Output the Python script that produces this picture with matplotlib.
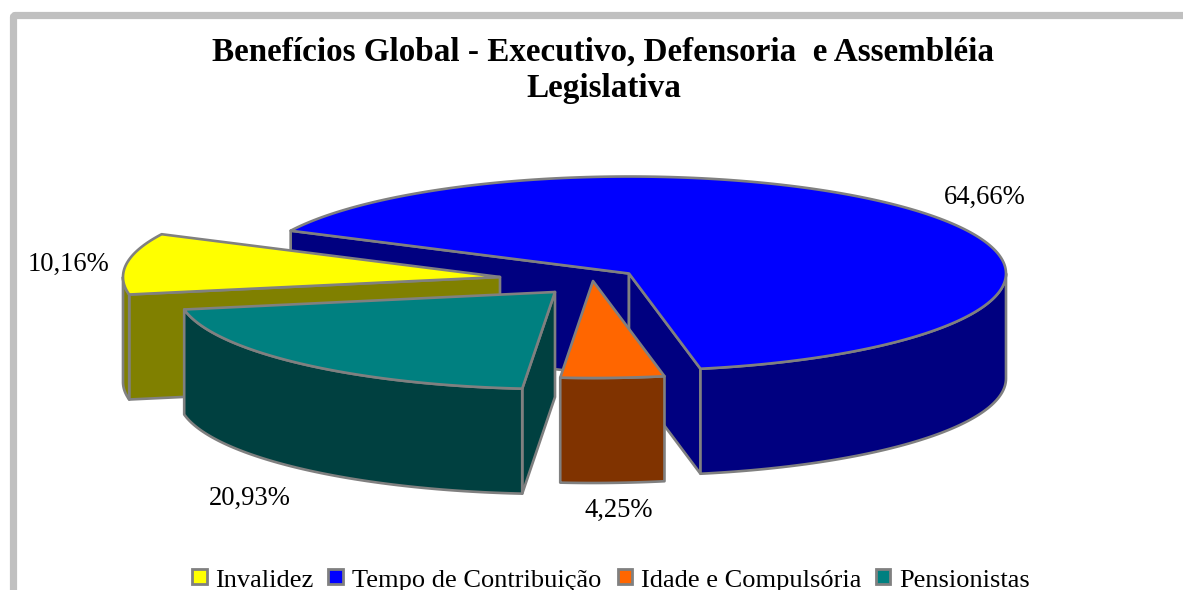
import numpy as np
import matplotlib
matplotlib.use('Agg')
import matplotlib.pyplot as plt
from matplotlib.patches import Polygon, Rectangle, FancyBboxPatch

plt.rcParams['font.family'] = ['Liberation Serif', 'DejaVu Serif']

# Data
categories = ['Invalidez', 'Tempo de Contribuição', 'Idade e Compulsória', 'Pensionistas']
values = [10.16, 64.66, 4.25, 20.93]
value_labels = ['10,16%', '64,66%', '4,25%', '20,93%']
title_lines = 'Benefícios Global - Executivo, Defensoria  e Assembléia\nLegislativa'

top_colors = ['#FFFF00', '#0000FF', '#FF6600', '#008080']
side_colors = ['#808000', '#000080', '#803300', '#004040']
edge_color = '#808080'

# Apex of each slice, in image pixels (slices are pulled out of the pie)
apex_x = [500, 629, 593, 555]
apex_y = [277, 273.5, 281, 292]
label_x = [68.5, 985, 619, 249.5]
label_y = [264, 197, 510, 498]

# Pie geometry
rx = 377
ry = 97
depth = 105
start_angle = -100.4  # degrees clockwise from the top of the ellipse


def rim(cx, cy, deg):
    # small bump for the perspective of the original around the front left
    d = np.mod(deg, 360)
    t = np.radians(d + 0.85 * np.exp(-((d - 190) / 15) ** 2))
    return cx + rx * np.sin(t), cy - ry * np.cos(t)


def draw_face(ax, xs, ys, color, z):
    ax.add_patch(Polygon(np.column_stack([xs, ys]), closed=True, facecolor=color,
                         edgecolor=edge_color, linewidth=1.9, joinstyle='round', zorder=z))


def draw_slice(ax, cx, cy, a0, a1, top, side, z):
    # cut faces, only those turned towards the viewer
    for a, sign in ((a0, -1), (a1, 1)):
        if np.sin(np.radians(a)) * sign > 0:
            x, y = rim(cx, cy, a)
            draw_face(ax, [cx, x, x, cx], [cy, y, y + depth, cy + depth], side, z)
    # outer wall, only the part on the front half of the ellipse
    lo = max(a0, 90)
    hi = min(a1, 270)
    lo2 = max(a0 + 360, 90)
    hi2 = min(a1 + 360, 270)
    if lo >= hi and lo2 < hi2:
        lo, hi = lo2, hi2
    if lo < hi:
        arc = np.linspace(lo, hi, 80)
        x, y = rim(cx, cy, arc)
        draw_face(ax, np.r_[x, x[::-1]], np.r_[y, y[::-1] + depth], side, z)
    # top
    arc = np.linspace(a0, a1, 200)
    x, y = rim(cx, cy, arc)
    draw_face(ax, np.r_[cx, x], np.r_[cy, y], top, z + 0.5)


fig = plt.figure(figsize=(11.83, 5.90), dpi=100)
ax = fig.add_axes([0, 0, 1, 1])
ax.set_xlim(0, 1183)
ax.set_ylim(590, 0)
ax.axis('off')

# Chart frame, only the left and top sides are inside the picture
ax.add_patch(FancyBboxPatch((13.5, 15.5), 1300, 700, boxstyle='round,pad=0,rounding_size=2',
                            facecolor='white', edgecolor='#C0C0C0', linewidth=5.2, zorder=0))

# Slice angles follow the values
spans = np.array(values) / sum(values) * 360
starts = start_angle + np.r_[0, np.cumsum(spans)[:-1]]

# Back to front: blue, yellow, teal, orange
for i, z in [(1, 1), (0, 2), (3, 3), (2, 4)]:
    draw_slice(ax, apex_x[i], apex_y[i], starts[i], starts[i] + spans[i],
               top_colors[i], side_colors[i], z)

ax.text(603.5, 70.5, title_lines, ha='center', va='center', fontsize=23.85, fontweight='bold',
        linespacing=1.24, color='black', zorder=6)

for lx, ly, s in zip(label_x, label_y, value_labels):
    ax.text(lx, ly, s, ha='center', va='center', fontsize=19.2, color='black', zorder=6)

# Legend
legend_box_x = [199.5, 335.5, 625, 883]
legend_text_x = [215, 352, 641, 899]
for bx, tx, name, c in zip(legend_box_x, legend_text_x, categories, top_colors):
    ax.add_patch(Rectangle((bx - 7.2, 569.3), 14.4, 14.4, facecolor=c, edgecolor=edge_color,
                           linewidth=2, zorder=6))
    ax.text(tx, 587, name, ha='left', va='baseline', fontsize=19, color='black', zorder=6)

fig.savefig('out.png', dpi=100)
